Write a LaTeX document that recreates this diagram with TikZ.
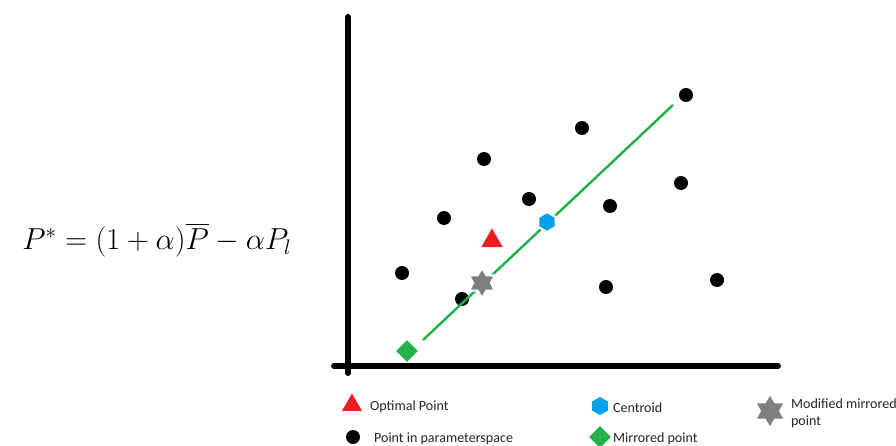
\documentclass[tikz,border=0pt]{standalone}
\usepackage{amsmath,amssymb}
\usepackage{fontspec}
\newfontfamily\legfont{Carlito}
\usetikzlibrary{shapes.geometric, positioning}

\definecolor{optred}{HTML}{ED1C24}
\definecolor{centblue}{HTML}{00A2E8}
\definecolor{mirgreen}{HTML}{22B14C}
\definecolor{modgray}{HTML}{7F7F7F}

\begin{document}
\begin{tikzpicture}[
  x=0.02cm, y=-0.02cm,
  axis/.style   = {line width=3.4pt, line cap=round, black},
  ray/.style    = {line width=1.4pt, mirgreen},
  sample/.style = {circle, fill=black, inner sep=0pt, minimum size=0.28cm},
  optim/.style  = {regular polygon, regular polygon sides=3, fill=optred,
                   inner sep=0pt, minimum size=0.5cm},
  centr/.style  = {regular polygon, regular polygon sides=6, fill=centblue,
                   shape border rotate=30, inner sep=0pt, minimum size=0.4cm},
  mirr/.style   = {diamond, fill=mirgreen, inner sep=0pt, minimum size=0.44cm},
  modmir/.style = {star, star points=6, star point ratio=1.7, fill=modgray,
                   inner sep=0pt, minimum size=0.6cm},
  onray/.style  = {draw=white, line width=1.2pt},
  lbl/.style    = {font=\legfont\fontsize{8}{9.5}\selectfont, text=black!85,
                   inner sep=1pt, align=left, yshift=-0.04cm},
]
\useasboundingbox (0,0) rectangle (896,446);

%% ── Formula ──────────────────────────────────────────────────────────────
\node (eq) at (157,240) {\fontsize{18.7}{22}\selectfont $P^{*}=(1+\alpha)\overline{P}-\alpha P_{l}$};

%% ── Axes ─────────────────────────────────────────────────────────────────
\coordinate (ytop) at (348,17);
\coordinate (ybot) at (348,373);
\coordinate (xlft) at (334,366);
\coordinate (xrgt) at (778,366);
\draw[axis] (ytop) -- (ybot);
\draw[axis] (xlft) -- (xrgt);

%% ── Points in parameter space ────────────────────────────────────────────
\foreach \px/\py [count=\i] in {686/95, 582/128, 484/159, 681/183, 529/199,
                               444/218, 610/206, 402/273, 462/299, 606/287, 717/280}
  \node[sample] (s\i) at (\px,\py) {};

%% ── Mirror line ──────────────────────────────────────────────────────────
\coordinate (raystart) at (423,340);
\coordinate (rayend)   at (673,105);
\draw[ray] (raystart) -- (rayend);

%% ── Special points ───────────────────────────────────────────────────────
\node[optim]        (opt)  at (492,241) {};
\node[centr, onray] (cen)  at (547,222) {};
\node[modmir, onray](mod)  at (482,283) {};
\node[mirr]         (mir)  at (407,351) {};

%% ── Legend ───────────────────────────────────────────────────────────────
\node[optim, minimum size=0.46cm] (legopt) at (352,405) {};
\node[lbl, right=0.32cm of legopt.center] {Optimal Point};
\node[sample] (legsmp) at (353,437) {};
\node[lbl, right=0.38cm of legsmp.center] {Point in parameterspace};
\node[centr, minimum size=0.36cm] (legcen) at (600,406) {};
\node[lbl, right=0.22cm of legcen.center] {Centroid};
\node[mirr] (legmir) at (600,437) {};
\node[lbl, right=0.22cm of legmir.center] {Mirrored point};
\node[modmir] (legmod) at (770,411) {};
\node[lbl, right=0.38cm of legmod.center] {Modified mirrored\\point};

\end{tikzpicture}
\end{document}
